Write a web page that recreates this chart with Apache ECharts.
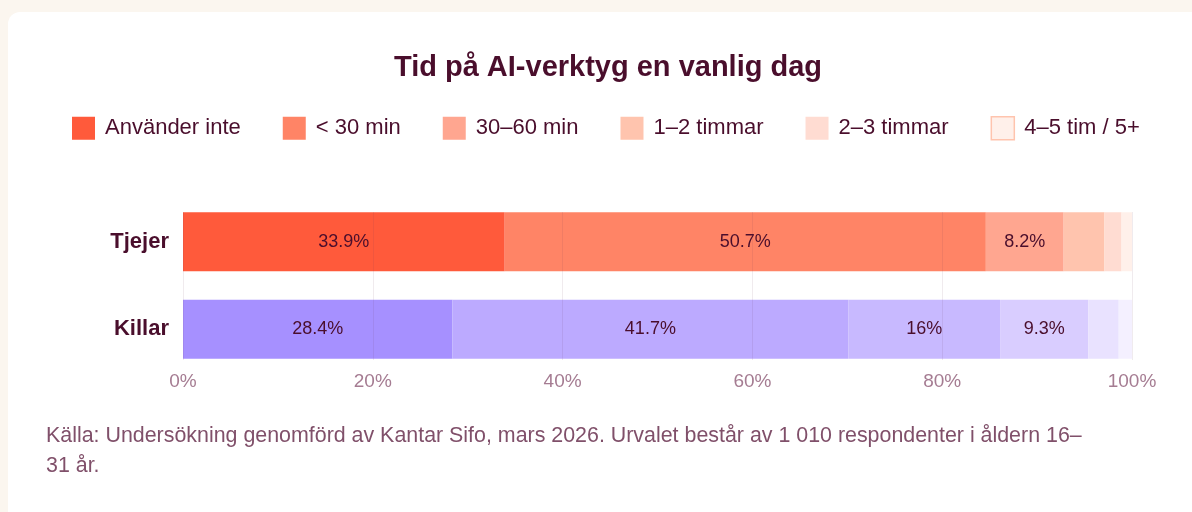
<!DOCTYPE html>
<html>
<head>
<meta charset="utf-8">
<script src="https://cdn.jsdelivr.net/npm/echarts@6/dist/echarts.min.js"></script>
<style>
  html, body { margin: 0; padding: 0; background: #FBF6EF; width: 1192px; height: 512px; overflow: hidden; }
  #card { position: absolute; left: 8px; top: 12px; width: 1200px; height: 520px; background: #FFFFFF; border-radius: 12px; overflow: hidden; }
  #chart { width: 1200px; height: 520px; }
</style>
</head>
<body>
<div id="card"><div id="chart"></div></div>
<script>
const categories = ['Tjejer', 'Killar'];
const seriesNames = ['Använder inte', '< 30 min', '30–60 min', '1–2 timmar', '2–3 timmar', '4–5 tim / 5+'];
const tjejerValues = [33.9, 50.7, 8.2, 4.3, 1.8, 1.1];
const killarValues = [28.4, 41.7, 16, 9.3, 3.2, 1.4];
const xTicks = [0, 20, 40, 60, 80, 100];
const titleText = 'Tid på AI-verktyg en vanlig dag';
const sourceText = 'Källa: Undersökning genomförd av Kantar Sifo, mars 2026. Urvalet består av 1 010 respondenter i åldern 16–\n31 år.';

const orangeShades = ['#FF5A3B', '#FF8466', '#FFA690', '#FFC4AE', '#FFDCD2', '#FFF0EA'];
const purpleShades = ['#A690FF', '#BCAAFF', '#C8B9FF', '#D9CDFF', '#E9E2FF', '#F4F0FF'];

const FONT = '"Liberation Sans", Helvetica, Arial, sans-serif';
const dark = '#4A0E2C';

const series = seriesNames.map((name, i) => ({
  name: name,
  type: 'bar',
  stack: 'total',
  xAxisIndex: 0,
  yAxisIndex: 0,
  barWidth: 59,
  itemStyle: { color: orangeShades[i] },
  label: {
    show: true,
    position: 'inside',
    color: dark,
    fontFamily: FONT,
    fontSize: 18,
    formatter: p => (p.value >= 5 ? p.value + '%' : '')
  },
  emphasis: { disabled: true },
  data: [
    { value: tjejerValues[i], itemStyle: { color: orangeShades[i] } },
    { value: killarValues[i], itemStyle: { color: purpleShades[i] } }
  ]
}));

const chart = echarts.init(document.getElementById('chart'), null, { renderer: 'canvas' });
chart.setOption({
  animation: false,
  title: {
    text: titleText,
    left: 'center',
    top: 36,
    textStyle: { fontFamily: FONT, fontSize: 29, fontWeight: 'bold', color: dark }
  },
  legend: {
    top: 99,
    left: 59,
    itemWidth: 23,
    itemHeight: 23,
    itemGap: 42,
    icon: 'rect',
    selectedMode: false,
    textStyle: { fontFamily: FONT, fontSize: 22, color: dark, padding: [0, 0, 0, 5] },
    data: seriesNames.map((n, i) => i === seriesNames.length - 1
      ? { name: n, itemStyle: { borderColor: '#FFC4AE', borderWidth: 1.5 } }
      : { name: n })
  },
  grid: [
    { left: 175, right: 76, top: 186, height: 175, containLabel: false },
    { left: 175, right: 76, top: 200, height: 148, containLabel: false }
  ],
  xAxis: [
    {
      type: 'value', gridIndex: 0, min: 0, max: 100, interval: 20,
      axisLine: { show: false }, axisTick: { show: false }, axisLabel: { show: false },
      splitLine: { show: false }
    },
    {
      type: 'value', gridIndex: 1, min: xTicks[0], max: xTicks[xTicks.length - 1], interval: 20,
      z: 5,
      axisLine: { show: false }, axisTick: { show: false },
      axisLabel: { show: true, margin: 12, fontFamily: FONT, fontSize: 19, color: '#A57C92', formatter: v => v + '%' },
      splitLine: { show: true, lineStyle: { color: 'rgba(110,60,90,0.10)', width: 1 } }
    }
  ],
  yAxis: [
    {
      type: 'category', gridIndex: 0, data: categories, inverse: true,
      axisLine: { show: false }, axisTick: { show: false },
      axisLabel: { margin: 14, fontFamily: FONT, fontSize: 22, fontWeight: 'bold', color: dark }
    },
    {
      type: 'value', gridIndex: 1, min: 0, max: 1, show: false
    }
  ],
  graphic: [
    {
      type: 'text',
      left: 38,
      top: 409,
      style: {
        text: sourceText,
        fontFamily: FONT,
        fontSize: 21.4,
        lineHeight: 30,
        fill: '#80506A'
      }
    }
  ],
  series: series
});
</script>
</body>
</html>
